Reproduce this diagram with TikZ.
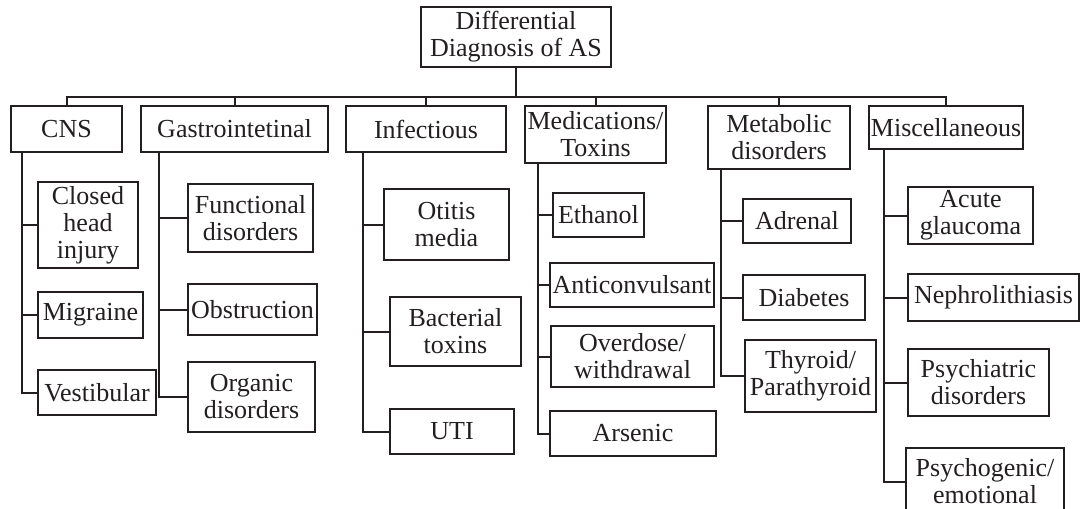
\documentclass[tikz,border=0pt]{standalone}
\usepackage{fontspec}
\setmainfont{Liberation Serif}
\definecolor{ink}{RGB}{35,31,32}
\begin{document}
\begin{tikzpicture}[x=1pt,y=-1pt,
  box/.style={draw=ink, line width=2pt, inner sep=0pt, outer sep=0pt, align=center,
    text=ink, font=\fontsize{26}{27}\selectfont},
  link/.style={draw=ink, line width=2pt}]
\useasboundingbox (0,0) rectangle (1080,509);
\fill[white] (0,0) rectangle (1080,509);
% root
\node[box, minimum width=190, minimum height=60] (root) at (516,37) {Differential\\Diagnosis of AS};
% level 1
\node[box, minimum width=111, minimum height=46] (cns) at (66.5,129) {CNS};
\node[box, minimum width=187, minimum height=46] (gas) at (234.5,129) {Gastrointetinal};
\node[box, minimum width=160, minimum height=46] (inf) at (426,129) {Infectious};
\node[box, minimum width=141, minimum height=57] (med) at (595.5,134.5) {Medications/\\Toxins};
\node[box, minimum width=142, minimum height=63] (met) at (779,137.5) {Metabolic\\disorders};
\node[box, minimum width=154, minimum height=43] (mis) at (946,127.5) {Miscellaneous};
% CNS children
\node[box, minimum width=100, minimum height=86] (chi) at (88,225) {Closed\\head\\injury};
\node[box, minimum width=105, minimum height=46] (mig) at (90.5,315) {Migraine};
\node[box, minimum width=118, minimum height=45] (ves) at (97,392.5) {Vestibular};
% Gastro children
\node[box, minimum width=125, minimum height=68] (fun) at (250.5,218) {Functional\\disorders};
\node[box, minimum width=129, minimum height=51] (obs) at (252.5,309.5) {Obstruction};
\node[box, minimum width=127, minimum height=70] (org) at (251.5,397) {Organic\\disorders};
% Infectious children
\node[box, minimum width=125, minimum height=71] (oti) at (446.5,224.5) {Otitis\\media};
\node[box, minimum width=131, minimum height=69] (bac) at (455.5,331.5) {Bacterial\\toxins};
\node[box, minimum width=124, minimum height=45] (uti) at (452,431.5) {UTI};
% Medications children
\node[box, minimum width=91, minimum height=44] (eth) at (598.5,215) {Ethanol};
\node[box, minimum width=164, minimum height=44] (ant) at (632,285) {Anticonvulsant};
\node[box, minimum width=163, minimum height=61] (ove) at (632.5,356.5) {Overdose/\\withdrawal};
\node[box, minimum width=166, minimum height=45] (ars) at (633,433.5) {Arsenic};
% Metabolic children
\node[box, minimum width=108, minimum height=44] (adr) at (797,221) {Adrenal};
\node[box, minimum width=122, minimum height=45] (dia) at (804,297.5) {Diabetes};
\node[box, minimum width=131, minimum height=72] (thy) at (810.5,376) {Thyroid/\\Parathyroid};
% Misc children
\node[box, minimum width=125, minimum height=57] (acu) at (970.5,215.5) {Acute\\glaucoma};
\node[box, minimum width=171, minimum height=47] (nep) at (993.5,297.5) {Nephrolithiasis};
\node[box, minimum width=141, minimum height=67] (psy) at (978.5,382.5) {Psychiatric\\disorders};
\node[box, minimum width=158, minimum height=67] (psg) at (985,481.5) {Psychogenic/\\emotional};
% bus
\coordinate (bus) at (516,97);
\draw[link] (root.south) -- (bus);
\foreach \n in {cns,gas,inf,med,met,mis} \draw[link] (\n.north) |- (bus);
% trunks
\foreach \c in {chi,mig,ves} \draw[link] ([xshift=11pt]cns.south west) |- (\c.west);
\foreach \c in {fun,obs,org} \draw[link] ([xshift=18pt]gas.south west) |- (\c.west);
\foreach \c in {oti,bac,uti} \draw[link] ([xshift=17pt]inf.south west) |- (\c.west);
\foreach \c in {eth,ant,ove,ars} \draw[link] ([xshift=13pt]med.south west) |- (\c.west);
\foreach \c in {adr,dia,thy} \draw[link] ([xshift=13pt]met.south west) |- (\c.west);
\foreach \c in {acu,nep,psy,psg} \draw[link] ([xshift=15pt]mis.south west) |- (\c.west);
\end{tikzpicture}
\end{document}
